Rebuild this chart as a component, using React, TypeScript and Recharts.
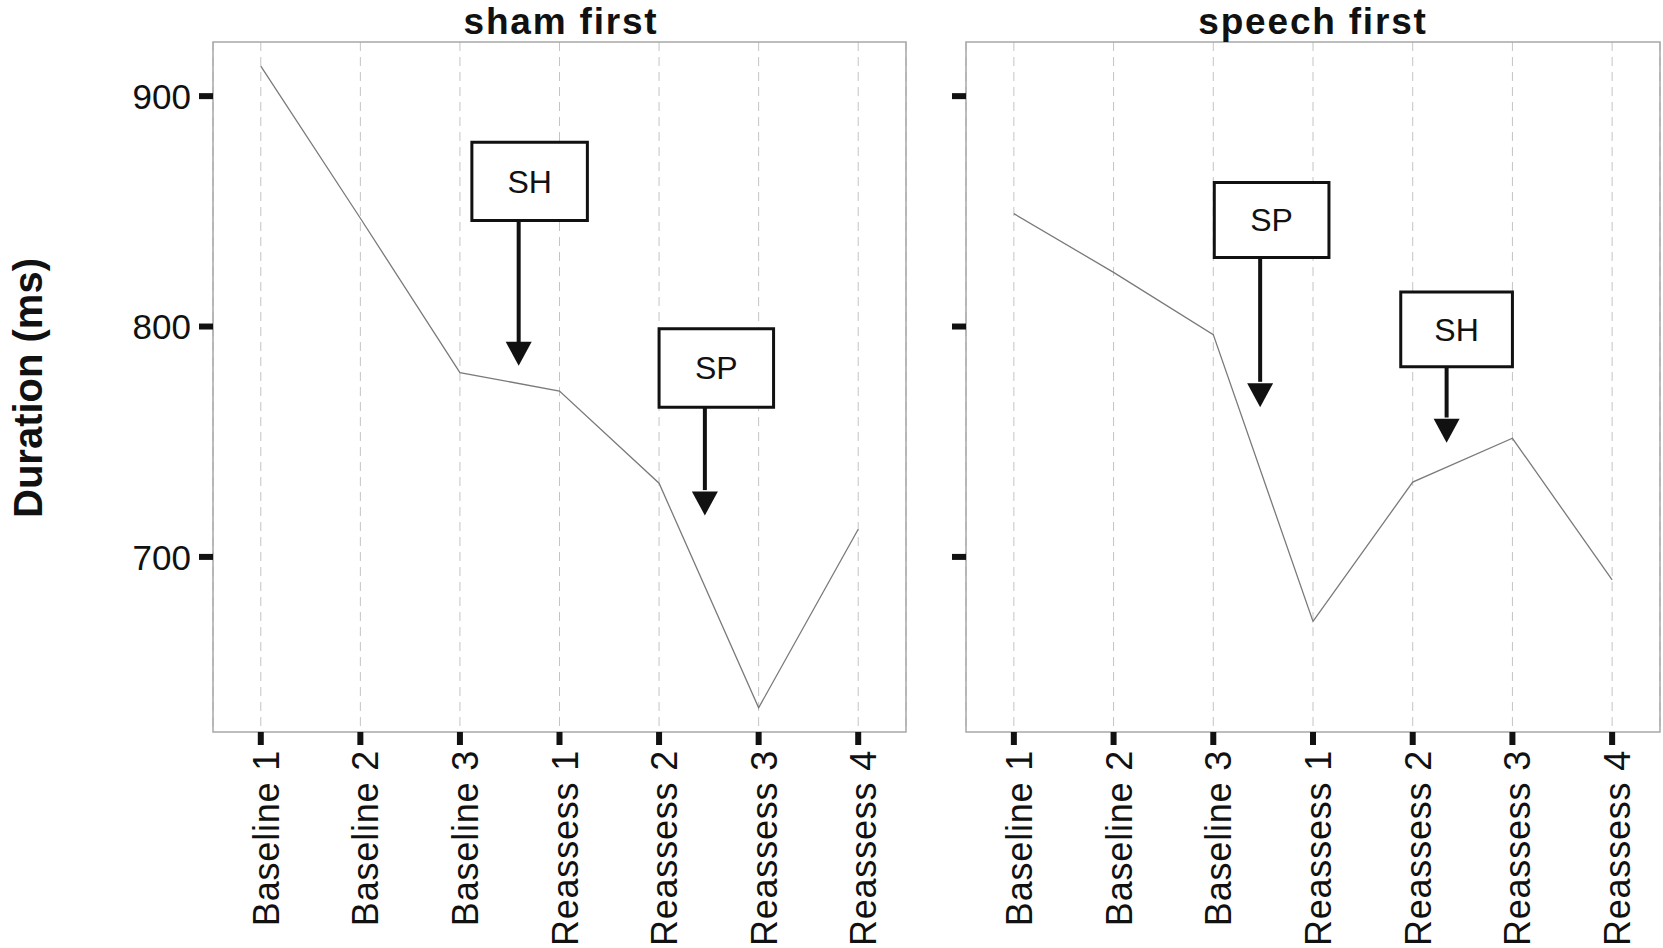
import { LineChart, Line, XAxis, YAxis, CartesianGrid, ReferenceArea, ReferenceLine, ReferenceDot } from 'recharts';

const CATEGORIES = ['Baseline 1', 'Baseline 2', 'Baseline 3', 'Reassess 1', 'Reassess 2', 'Reassess 3', 'Reassess 4'];
const SHAM_FIRST = [913, 847, 780, 772, 732, 634.5, 712];
const SPEECH_FIRST = [849, 823.5, 796.5, 672, 732.5, 751.5, 690];
const Y_TICKS = [700, 800, 900];
const Y_DOMAIN: [number, number] = [624, 923.5];
const X_DOMAIN: [number, number] = [-0.48, 6.48];

// boxes and arrows, in data units (x = category index)
const SHAM_NOTES = [
  { label: 'SH', x1: 2.12, x2: 3.28, y1: 846, y2: 880, arrowX: 2.59, base: 792.5, tip: 783 },
  { label: 'SP', x1: 4.0, x2: 5.15, y1: 765, y2: 799, arrowX: 4.46, base: 729, tip: 718 },
];
const SPEECH_NOTES = [
  { label: 'SP', x1: 2.01, x2: 3.16, y1: 830, y2: 862.5, arrowX: 2.47, base: 776, tip: 765 },
  { label: 'SH', x1: 3.88, x2: 5.0, y1: 782.5, y2: 815, arrowX: 4.34, base: 760.5, tip: 749.5 },
];

const FONT = '"Liberation Sans", Arial, Helvetica, sans-serif';
const X_TICKS = CATEGORIES.map((_, i) => i);

type Note = typeof SHAM_NOTES[number];

const XTick = ({ x, y, payload }: any) => (
  <text
    transform={`translate(${x},${y}) rotate(-90)`}
    textAnchor="end"
    dy="0.5em"
    fontSize={36}
    letterSpacing={0.8}
    fontFamily={FONT}
    fill="#111"
  >
    {CATEGORIES[payload.value]}
  </text>
);

const YTick = ({ x, y, payload }: any) => (
  <text x={x} y={y} dy="0.36em" textAnchor="end" fontSize={35} fontFamily={FONT} fill="#111">
    {payload.value}
  </text>
);

const Arrowhead = ({ cx, cy }: any) => (
  <polygon points={`${cx - 13},${cy - 24} ${cx + 13},${cy - 24} ${cx},${cy}`} fill="#111" />
);

interface PanelProps {
  values: number[];
  notes: Note[];
  width: number;
  margin: { top: number; right: number; bottom: number; left: number };
  yAxisWidth: number;
  showYLabels: boolean;
}

const Panel = ({ values, notes, width, margin, yAxisWidth, showYLabels }: PanelProps) => {
  const data = values.map((v, i) => ({ x: i, v }));
  return (
    <LineChart width={width} height={948} data={data} margin={margin}>
      <CartesianGrid horizontal={false} stroke="#c4c4c4" strokeDasharray="9 6" />
      <ReferenceArea
        x1={X_DOMAIN[0]}
        x2={X_DOMAIN[1]}
        y1={Y_DOMAIN[0]}
        y2={Y_DOMAIN[1]}
        fill="none"
        stroke="#a8a8a8"
        strokeWidth={1.5}
        ifOverflow="visible"
      />
      <XAxis
        dataKey="x"
        type="number"
        domain={X_DOMAIN}
        ticks={X_TICKS}
        allowDataOverflow
        interval={0}
        height={200}
        axisLine={false}
        tickLine={{ stroke: '#111', strokeWidth: 6 }}
        tickSize={13}
        tickMargin={5}
        tick={<XTick />}
      />
      <YAxis
        type="number"
        domain={Y_DOMAIN}
        ticks={Y_TICKS}
        allowDataOverflow
        interval={0}
        width={yAxisWidth}
        axisLine={false}
        tickLine={{ stroke: '#111', strokeWidth: 6 }}
        tickSize={14}
        tickMargin={8}
        tick={showYLabels ? <YTick /> : () => <g />}
      />
      <Line
        type="linear"
        dataKey="v"
        stroke="#7a7a7a"
        strokeWidth={1.3}
        dot={false}
        activeDot={false}
        isAnimationActive={false}
      />
      {notes.map((n, i) => (
        <ReferenceArea
          key={`box${i}`}
          x1={n.x1}
          x2={n.x2}
          y1={n.y1}
          y2={n.y2}
          fill="#fff"
          fillOpacity={1}
          stroke="#111"
          strokeWidth={3}
          ifOverflow="visible"
          label={{ value: n.label, position: 'center', fontSize: 32, fill: '#111', fontFamily: FONT }}
        />
      ))}
      {notes.map((n, i) => (
        <ReferenceLine
          key={`ln${i}`}
          segment={[{ x: n.arrowX, y: n.y1 }, { x: n.arrowX, y: n.base }]}
          stroke="#111"
          strokeWidth={4}
          ifOverflow="visible"
        />
      ))}
      {notes.map((n, i) => (
        <ReferenceDot key={`hd${i}`} x={n.arrowX} y={n.tip} r={1} ifOverflow="visible" shape={<Arrowhead />} />
      ))}
    </LineChart>
  );
};

export default function App() {
  return (
    <div style={{ position: 'absolute', left: 0, top: 0, width: 1663, height: 948, background: '#fff', fontFamily: FONT }}>
      <div style={{ position: 'absolute', left: 0, top: 0 }}>
        <Panel
          values={SHAM_FIRST}
          notes={SHAM_NOTES}
          width={930}
          margin={{ top: 42, right: 24, bottom: 16, left: 133 }}
          yAxisWidth={80}
          showYLabels
        />
      </div>
      <div style={{ position: 'absolute', left: 930, top: 0 }}>
        <Panel
          values={SPEECH_FIRST}
          notes={SPEECH_NOTES}
          width={733}
          margin={{ top: 42, right: 3, bottom: 16, left: 16 }}
          yAxisWidth={20}
          showYLabels={false}
        />
      </div>
      <svg width={1663} height={948} style={{ position: 'absolute', left: 0, top: 0, pointerEvents: 'none' }}>
        <text x={561} y={34} textAnchor="middle" fontSize={37} letterSpacing={1.8} fontWeight="bold" fontFamily={FONT} fill="#111">
          sham first
        </text>
        <text x={1313} y={34} textAnchor="middle" fontSize={37} letterSpacing={1.8} fontWeight="bold" fontFamily={FONT} fill="#111">
          speech first
        </text>
        <text
          transform="translate(42,388) rotate(-90)"
          textAnchor="middle"
          fontSize={40}
          fontWeight="bold"
          fontFamily={FONT}
          fill="#111"
        >
          Duration (ms)
        </text>
      </svg>
    </div>
  );
}
